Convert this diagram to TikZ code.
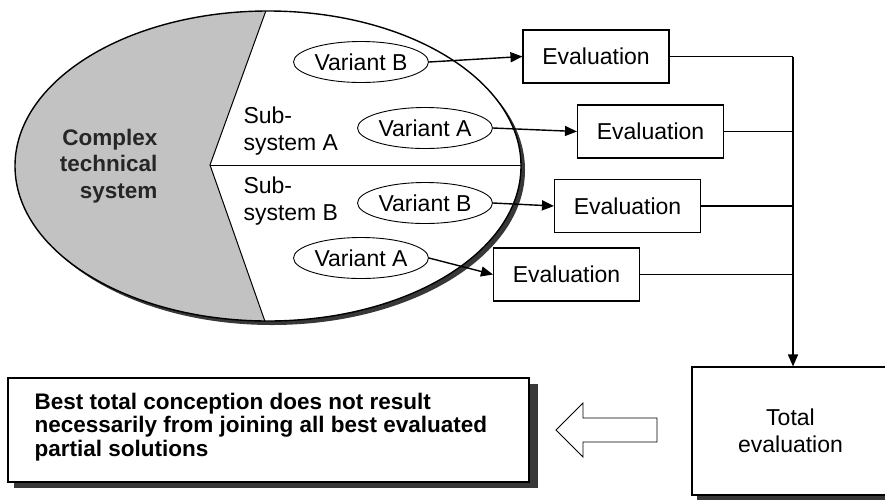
\documentclass[tikz,border=0pt]{standalone}
\usepackage{fontspec}
\setmainfont{Liberation Sans}
\usetikzlibrary{arrows.meta,shapes.geometric}

\begin{document}
\begin{tikzpicture}[x=1pt,y=-1pt,
  every node/.style={font=\fontsize{23}{27}\selectfont},
  variant/.style={ellipse, draw, line width=0.9pt, fill=white,
    minimum width=135pt, minimum height=41pt, inner sep=0pt},
  evalbox/.style={draw, line width=1.1pt, fill=white,
    minimum width=146pt, minimum height=53pt, inner sep=0pt},
  link/.style={line width=1.4pt},
  flow/.style={link, -{Triangle[length=12pt,width=10pt]}},
  shade/.style={fill=black!78},
]
\useasboundingbox (0,0) rectangle (885,499);

% system ellipse with its drop shadow
\fill[shade] (272,170) ellipse [x radius=253, y radius=155];
\fill[white] (268,166) ellipse [x radius=253, y radius=155];
\begin{scope}
  \clip (268,166) ellipse [x radius=253, y radius=155];
  \fill[black!24] (0,0) -- (268,5) -- (210,165) -- (268,330) -- (0,330) -- cycle;
  \draw[line width=1pt] (268,5) -- (210,165) -- (268,330);
  \draw[line width=1pt] (210,165) -- (530,165);
\end{scope}
\draw[line width=1.4pt] (268,166) ellipse [x radius=253, y radius=155];

\node[font=\fontsize{22.5}{26.5}\selectfont\bfseries, text=black!85,
      align=right, anchor=east] (cts) at (161,166) {Complex\\technical\\system};
\node[align=left, anchor=west] (ssa) at (240,131) {Sub-\\system A};
\node[align=left, anchor=west] (ssb) at (240,201) {Sub-\\system B};

% design variants
\node[variant] (vb1) at (361,62)  {Variant B};
\node[variant] (va1) at (425,128) {Variant A};
\node[variant] (vb2) at (425,203) {Variant B};
\node[variant] (va2) at (361,258) {Variant A};

% partial evaluations
\node[evalbox] (e1) at (596,56.5)  {Evaluation};
\node[evalbox] (e2) at (650.5,131.5) {Evaluation};
\node[evalbox] (e3) at (627.5,206) {Evaluation};
\node[evalbox] (e4) at (566.5,274.5) {Evaluation};

\draw[flow] (vb1.east) -- (e1.west);
\draw[flow] (va1.east) -- (e2.west);
\draw[flow] (vb2.east) -- (e3.west);
\draw[flow] (va2.east) -- (e4.west);

% total evaluation
\fill[shade] (697,372) rectangle (895,500);
\node[draw, line width=1.1pt, fill=white, minimum width=197pt, minimum height=128pt,
      inner sep=0pt, align=center] (tot) at (790.5,431) {Total\\evaluation};

\coordinate (bus) at (793,56.5);
\draw[link] (e1.east) -- (bus);
\draw[link] (e2.east) -- (e2.east -| bus);
\draw[link] (e3.east) -- (e3.east -| bus);
\draw[link] (e4.east) -- (e4.east -| bus);
\draw[flow] (bus) -- (bus |- tot.north);

% conclusion box
\fill[shade] (14,384) rectangle (538,488);
\node[draw, line width=1.1pt, fill=white, minimum width=521pt, minimum height=104pt,
      inner sep=0pt] (res) at (268.5,430) {};
\node[font=\fontsize{22.5}{23.5}\selectfont\bfseries, align=left, anchor=west]
  (restext) at (31,427)
  {Best total conception does not result\\necessarily from joining all best evaluated\\partial solutions};

% hollow block arrow pointing to the conclusion
\draw[line width=0.8pt, fill=white] (556,430) -- (583,403) -- (583,418) -- (657,418)
  -- (657,442) -- (583,442) -- (583,457) -- cycle;
\end{tikzpicture}
\end{document}
